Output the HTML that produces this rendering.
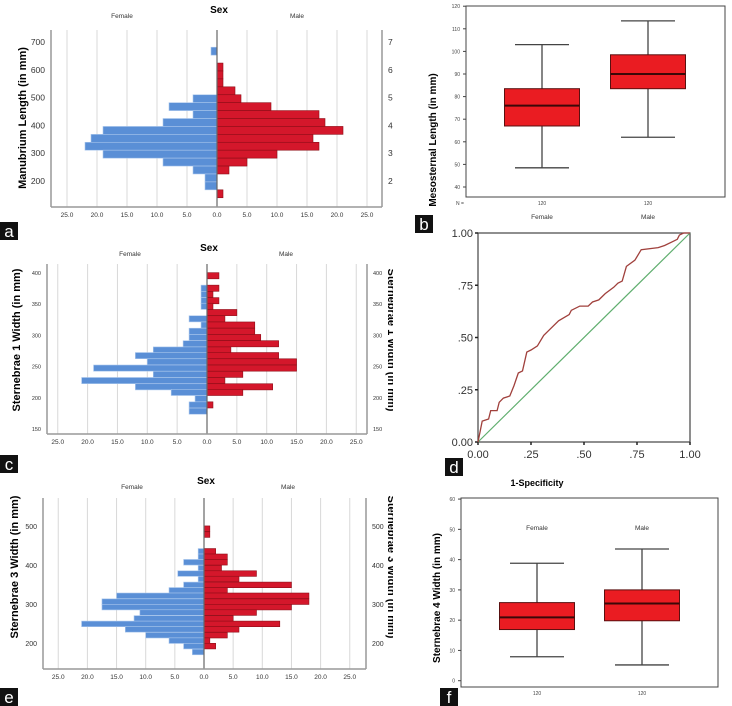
<!DOCTYPE html>
<html><head><meta charset="utf-8"><style>
body{margin:0;background:#fff}
svg{display:block;font-family:"Liberation Sans",sans-serif}
</style></head><body>
<svg id="fig" width="732" height="706" viewBox="0 0 732 706" xmlns="http://www.w3.org/2000/svg">
<defs><clipPath id="leftclip"><rect x="0" y="0" width="393" height="706"/></clipPath></defs>
<g clip-path="url(#leftclip)">
<g id="pa"></g>
<g id="pc"></g>
<g id="pe"></g>
</g>
<g id="pb"></g>
<g id="pd"></g>
<g id="pf"></g>
</svg>
<script>
// ---- Panel a data ----
const aBins = [667,638.5,610,581.5,553,524.5,496,467.5,439,410.5,382,353.5,325,296.5,268,239.5,211,182.5,154];
const aFemale = [1,0,0,0,0,0,4,8,4,9,19,21,22,19,9,4,2,2,0];
const aMale = [0,0,1,1,1,3,4,9,17,18,21,16,17,10,5,2,0,0,1];
const aYTicks = [200,300,400,500,600,700];
// ---- Panel c data ----
const cBins = [394,384,374,364,354,345,335,325,315,305,295,285,275,266,256,246,236,226,216,207,197,187,177];
const cFemale = [0,0,1,1,1,1,0,3,1,3,3,4,9,12,10,19,9,21,12,6,2,3,3];
const cMale = [2,0,2,1,2,1,5,3,8,8,9,12,4,12,15,15,6,3,11,6,0,1,0];
const cYTicks = [150,200,250,300,350,400];
// ---- Panel e data ----
const eBins = [493,478,464,450,435,421,407,392,378,364,349,335,321,306,292,278,263,249,235,220,206,192,177];
const eFemale = [0,0,0,0,1,1,3.5,1,4.5,1,3.5,6,15,17.5,17.5,11,12,21,13.5,10,6,3.5,2];
const eMale = [1,1,0,0,2,4,4,3,9,6,15,4,18,18,15,9,5,13,6,4,1,2,0];
const eYTicks = [200,300,400,500];
const xTickLabels = ["25.0","20.0","15.0","10.0","5.0","0.0","5.0","10.0","15.0","20.0","25.0"];
const xTickVals = [-25,-20,-15,-10,-5,0,5,10,15,20,25];
// ---- Panel b data ----
const bGroups = ["Female","Male"];
const bMax = [103,113.5];
const bQ3 = [83.5,98.5];
const bMed = [76,90];
const bQ1 = [67,83.5];
const bMin = [48.5,62];
const bYTicks = [40,50,60,70,80,90,100,110,120];
// ---- Panel d data ----
const dFpr = [0,0.01,0.02,0.05,0.06,0.09,0.10,0.12,0.15,0.17,0.19,0.21,0.23,0.25,0.28,0.31,0.33,0.38,0.43,0.44,0.48,0.52,0.54,0.57,0.60,0.64,0.66,0.68,0.70,0.74,0.77,0.85,0.88,0.92,0.94,0.95,0.97,1];
const dTpr = [0,0.05,0.10,0.11,0.15,0.15,0.19,0.21,0.22,0.27,0.33,0.34,0.43,0.44,0.46,0.51,0.53,0.58,0.61,0.63,0.65,0.65,0.67,0.68,0.71,0.74,0.76,0.77,0.84,0.87,0.92,0.93,0.94,0.96,0.97,0.99,1,1];
const dTicks = [0,0.25,0.5,0.75,1];
const dTickLabels = ["0.00",".25",".50",".75","1.00"];
// ---- Panel f data ----
const fGroups = ["Female","Male"];
const fMax = [38.8,43.5];
const fQ3 = [25.8,30];
const fMed = [20.9,25.5];
const fQ1 = [16.9,19.8];
const fMin = [7.9,5.2];
const fYTicks = [0,10,20,30,40,50,60];

const NS="http://www.w3.org/2000/svg";
function mk(parent,tag,attrs,text){const e=document.createElementNS(NS,tag);for(const k in attrs)e.setAttribute(k,attrs[k]);if(text!==undefined)e.textContent=text;parent.appendChild(e);return e;}

function pyramid(g,o){
  const xs=v=>o.zero+v*o.ppu;
  const ys=v=>o.y0-(v-o.v0)*o.ppm;
  xTickVals.forEach((v,i)=>{
    if(v!==0){const l=mk(g,'line',{x1:xs(v),x2:xs(v),y1:o.top,y2:o.bottom,stroke:'#d8d8d8','stroke-width':1});
    
    }
    const t=mk(g,'text',{x:xs(v),y:o.bottom+10,'font-size':6.5,'text-anchor':'middle',fill:'#333'},xTickLabels[i]);
    
    
  });
  const bh=o.binH*o.ppm;
  o.bins.forEach((c,i)=>{
    if(o.fem[i]>0){const r=mk(g,'rect',{x:xs(-o.fem[i]),y:ys(c)-bh/2,width:o.fem[i]*o.ppu,height:bh,fill:'#5a8fd6',stroke:'#a9c6ec','stroke-width':0.6});
    
    }
    if(o.male[i]>0){const r=mk(g,'rect',{x:xs(0),y:ys(c)-bh/2,width:o.male[i]*o.ppu,height:bh,fill:'#d4172b',stroke:'#8e0d17','stroke-width':0.6});
    
    }
  });
  mk(g,'line',{x1:xs(0),x2:xs(0),y1:o.top,y2:o.bottom,stroke:'#666','stroke-width':1.2});
  mk(g,'line',{x1:o.left,x2:o.left,y1:o.top,y2:o.bottom,stroke:'#999','stroke-width':1.5});
  mk(g,'line',{x1:o.right,x2:o.right,y1:o.top,y2:o.bottom,stroke:'#999','stroke-width':1.5});
  mk(g,'line',{x1:o.left,x2:o.right,y1:o.bottom,y2:o.bottom,stroke:'#999','stroke-width':1.5});
  o.yt.forEach(v=>{
    const t=mk(g,'text',{x:o.left-6,y:ys(v)+3,'font-size':o.yfs,'text-anchor':'end',fill:'#333'},v);
    
    
    const t2=mk(g,'text',{x:o.right+6,y:ys(v)+3,'font-size':o.yfs,fill:'#333'},v);
    
    
  });
  const s=mk(g,'text',{x:o.zero+2,y:o.titleY,'font-size':10,'font-weight':'bold','text-anchor':'middle'},'Sex');
  
  
  const f=mk(g,'text',{x:o.fx,y:o.titleY+5,'font-size':6.5,'text-anchor':'middle',fill:'#333'},'Female');
  
  
  const m=mk(g,'text',{x:o.mx,y:o.titleY+5,'font-size':6.5,'text-anchor':'middle',fill:'#333'},'Male');
  
  
  const yt=mk(g,'text',{x:0,y:0,'font-size':o.yts,'font-weight':'bold','text-anchor':'middle',transform:`translate(${o.ytx},${o.yty}) rotate(-90)`},o.ytitle);
  
  
  if(o.rtitle){const rt=mk(g,'text',{x:0,y:0,'font-size':o.yts,'font-weight':'bold','text-anchor':'middle',transform:`translate(${o.rtx},${o.yty}) rotate(90)`},o.ytitle);
  
  }
}
function labelBox(g,x,y,ch,name){
  const r=mk(g,'rect',{x:x,y:y,width:18,height:18,fill:'#111'});
  
  
  const t=mk(g,'text',{x:x+9,y:y+15,'font-size':17,fill:'#fff','text-anchor':'middle'},ch);
  
  
}

pyramid(document.getElementById('pa'),{zero:217,ppu:6,y0:181,v0:200,ppm:0.278,binH:28.5,bins:aBins,fem:aFemale,male:aMale,yt:aYTicks,left:51,right:382,top:30,bottom:207,yfs:8.5,titleY:13,fx:122,mx:297,ytitle:'Manubrium Length (in mm)',yts:11,ytx:26,yty:118});
labelBox(document.getElementById('pa'),0,222,'a','panel-label-a');
pyramid(document.getElementById('pc'),{zero:207,ppu:5.97,y0:272,v0:400,ppm:0.624,binH:9.86,bins:cBins,fem:cFemale,male:cMale,yt:cYTicks,left:47,right:367,top:264,bottom:434,yfs:5.5,titleY:251,fx:130,mx:286,ytitle:'Sternebrae 1 Width (in mm)',yts:11,ytx:20,yty:340,rtitle:true,rtx:388});
labelBox(document.getElementById('pc'),0,455,'c','panel-label-c');
pyramid(document.getElementById('pe'),{zero:204,ppu:5.83,y0:526,v0:500,ppm:0.39,binH:14.36,bins:eBins,fem:eFemale,male:eMale,yt:eYTicks,left:43,right:366,top:498,bottom:669,yfs:7,titleY:484,fx:132,mx:288,ytitle:'Sternebrae 3 Width (in mm)',yts:11,ytx:18,yty:567,rtitle:true,rtx:388});
labelBox(document.getElementById('pe'),0,688,'e','panel-label-e');

function boxplot(g,o){
  const ys=v=>o.y0-(v-o.v0)*o.ppu;
  mk(g,'rect',{x:o.left,y:o.top,width:o.right-o.left,height:o.bottom-o.top,fill:'none',stroke:'#444','stroke-width':1});
  o.yt.forEach(v=>{
    mk(g,'line',{x1:o.left-3,x2:o.left,y1:ys(v),y2:ys(v),stroke:'#444'});
    const t=mk(g,'text',{x:o.left-6,y:ys(v)+2,'font-size':5,'text-anchor':'end',fill:'#444'},v);
    
    
  });
  o.groups.forEach((gname,i)=>{
    const cx=o.cx[i],hw=o.bw/2,cw=o.cw/2;
    const w1=mk(g,'line',{x1:cx,x2:cx,y1:ys(o.max[i]),y2:ys(o.q3[i]),stroke:'#444','stroke-width':1.3});
    
    const w2=mk(g,'line',{x1:cx,x2:cx,y1:ys(o.q1[i]),y2:ys(o.min[i]),stroke:'#444','stroke-width':1.3});
    
    mk(g,'line',{x1:cx-cw,x2:cx+cw,y1:ys(o.max[i]),y2:ys(o.max[i]),stroke:'#444','stroke-width':1.3});
    mk(g,'line',{x1:cx-cw,x2:cx+cw,y1:ys(o.min[i]),y2:ys(o.min[i]),stroke:'#444','stroke-width':1.3});
    const b=mk(g,'rect',{x:cx-hw,y:ys(o.q3[i]),width:o.bw,height:ys(o.q1[i])-ys(o.q3[i]),fill:'#ea1c22',stroke:'#5a1010','stroke-width':1});
    
    const m=mk(g,'line',{x1:cx-hw,x2:cx+hw,y1:ys(o.med[i]),y2:ys(o.med[i]),stroke:'#3a0808','stroke-width':2});
    
    const n=mk(g,'text',{x:cx,y:o.bottom+8,'font-size':5,'text-anchor':'middle',fill:'#444'},'120');
    
    const gl=mk(g,'text',{x:cx,y:o.gy,'font-size':6.5,'text-anchor':'middle',fill:'#333'},gname);
    
  });
  const yt=mk(g,'text',{x:0,y:0,'font-size':10,'font-weight':'bold','text-anchor':'middle',transform:`translate(${o.ytx},${o.yty}) rotate(-90)`},o.ytitle);
  
}
boxplot(document.getElementById('pb'),{left:466,right:725,top:6,bottom:197,y0:187,v0:40,ppu:2.26,yt:bYTicks,groups:bGroups,cx:[542,648],bw:75,cw:54,max:bMax,q3:bQ3,med:bMed,q1:bQ1,min:bMin,gy:219,ytitle:'Mesosternal Length (in mm)',ytx:436,yty:140});
mk(document.getElementById('pb'),'text',{x:456,y:205,'font-size':5,fill:'#444'},'N =');
labelBox(document.getElementById('pb'),415,215,'b','panel-label-b');

boxplot(document.getElementById('pf'),{left:461,right:718,top:498,bottom:687,y0:680.7,v0:0,ppu:3.027,yt:fYTicks,groups:fGroups,cx:[537,642],bw:75,cw:54,max:fMax,q3:fQ3,med:fMed,q1:fQ1,min:fMin,gy:530,ytitle:'Sternebrae 4 Width (in mm)',ytx:440,yty:598});
labelBox(document.getElementById('pf'),440,688,'f','panel-label-f');

// ROC
(function(){
  const g=document.getElementById('pd');
  const L=478,R=690,T=233,B=442;
  const xs=v=>L+v*(R-L), ys=v=>B-v*(B-T);
  mk(g,'rect',{x:L,y:T,width:R-L,height:B-T,fill:'none',stroke:'#444','stroke-width':1.2});
  dTicks.forEach((v,i)=>{
    mk(g,'line',{x1:L-3,x2:L,y1:ys(v),y2:ys(v),stroke:'#222','stroke-width':1.5});
    mk(g,'line',{x1:xs(v),x2:xs(v),y1:B,y2:B+3,stroke:'#222','stroke-width':1.5});
    const t=mk(g,'text',{x:L-5,y:ys(v)+4,'font-size':11,'text-anchor':'end',fill:'#333'},dTickLabels[i]);
    
    const t2=mk(g,'text',{x:xs(v),y:B+16,'font-size':11,'text-anchor':'middle',fill:'#333'},dTickLabels[i]);
    
  });
  const ref=mk(g,'line',{x1:xs(0),y1:ys(0),x2:xs(1),y2:ys(1),stroke:'#5fae6e','stroke-width':1.2});
  
  let d='';dFpr.forEach((x,i)=>{d+=(i?'L':'M')+xs(x).toFixed(1)+','+ys(dTpr[i]).toFixed(1);});
  const p=mk(g,'path',{d:d,fill:'none',stroke:'#a0403c','stroke-width':1.3});
  
  const s=mk(g,'text',{x:537,y:486,'font-size':9,'font-weight':'bold','text-anchor':'middle'},'1-Specificity');
  
  labelBox(g,445,458,'d','panel-label-d');
})();
</script>
</body></html>
